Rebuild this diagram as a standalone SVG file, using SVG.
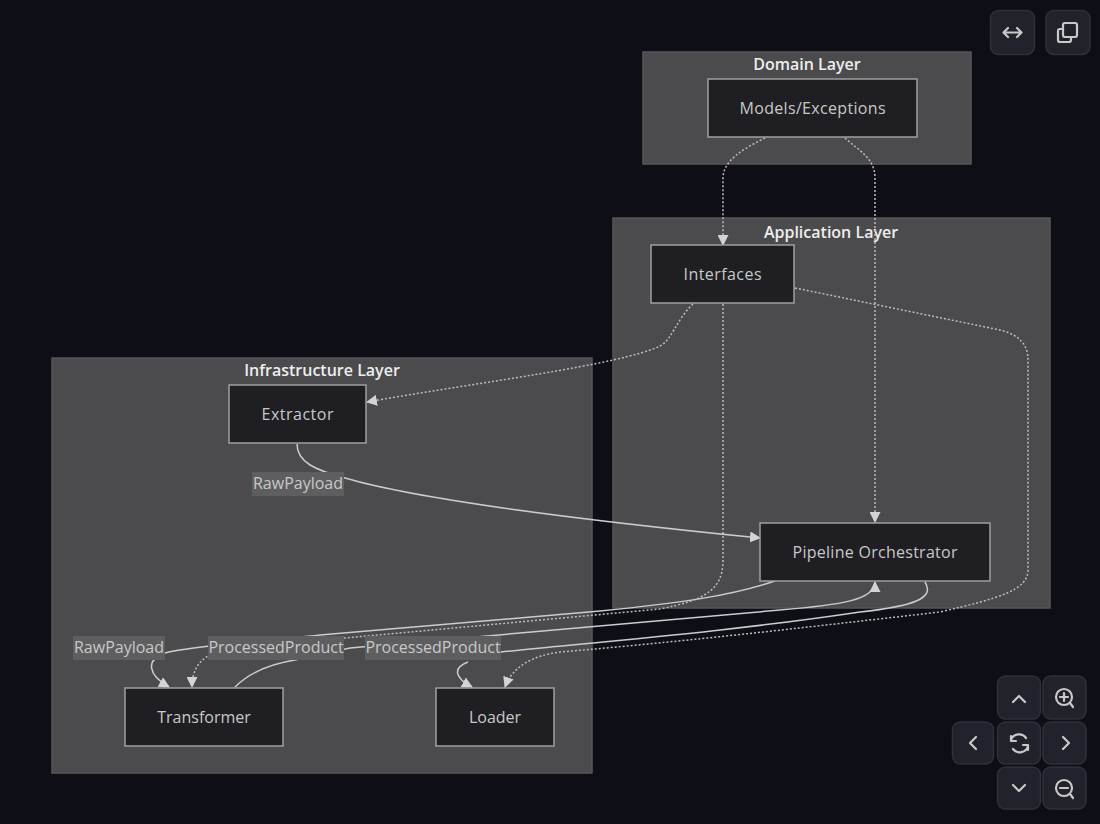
<svg xmlns="http://www.w3.org/2000/svg" width="1100" height="824" viewBox="0 0 1100 824">
<style>
text{font-family:"Open Sans","Liberation Sans",sans-serif;text-anchor:middle}
.cl{fill:#4b4b4e;stroke:#56565a;stroke-width:1.5}
.ct{font-size:16px;font-weight:600;fill:#eeeeee}
.n{fill:#1f1f23;stroke:#a0a0a0;stroke-width:1.5}
.nt{font-size:16px;fill:#c8c8c8}
.e{fill:none;stroke:#cccccc;stroke-width:1.5}
.d{stroke-dasharray:2 2;stroke:#bdbdbd}
.lb{fill:#5e5e60}
.lt{font-size:16px;fill:#c8c8c8}
.b{fill:#22222c;stroke:#30303a;stroke-width:1.5}
.i{fill:none;stroke:#c8c8c8;stroke-width:2.2;stroke-linecap:round;stroke-linejoin:round}
</style>
<defs><marker id="a" markerWidth="11" markerHeight="11" refX="10" refY="5.500" orient="auto" markerUnits="userSpaceOnUse"><path d="M0 0L11 5.500L0 11z" fill="#d4d4d4"/></marker></defs>
<rect width="1100" height="824" fill="#0e0e17"/>
<g id="clusters">
<g id="domain-layer"><rect class="cl" x="643" y="52" width="328" height="112"/><text class="ct" x="807" y="70">Domain Layer</text></g>
<g id="application-layer"><rect class="cl" x="613" y="218" width="437" height="390"/><text class="ct" x="831" y="238">Application Layer</text></g>
<g id="infrastructure-layer"><rect class="cl" x="52" y="358" width="540" height="415"/><text class="ct" x="322" y="376">Infrastructure Layer</text></g>
</g>
<g id="connectors">
<path class="e d" marker-end="url(#a)" d="M765 138C745 148 723 160 723 178V245"/>
<path class="e d" marker-end="url(#a)" d="M845 138C858 150 875 158 875 178V522"/>
<path class="e d" marker-end="url(#a)" d="M693 304C676 320 672 340 660 346C620 365 480 382 367 402"/>
<path class="e d" marker-end="url(#a)" d="M723 304V560C723 590 705 600 660 609L345 638C300 642 240 644 212 654C198 660 192 672 192 687"/>
<path class="e d" marker-end="url(#a)" d="M795 288L1000 330C1020 335 1028 345 1028 360V570C1028 590 1000 598 940 612C800 628 680 642 560 652C530 656 512 668 505 687"/>
<path class="e" marker-end="url(#a)" d="M297 444C297 462 315 470 345 478C420 500 600 522 760 538"/>
<path class="e" marker-end="url(#a)" d="M775 581C730 596 680 603 600 611L320 635C260 642 190 646 165 653C145 660 148 675 169 687"/>
<path class="e" marker-end="url(#a)" d="M235 687C250 672 270 664 295 660L350 648L520 633L780 610C840 605 875 600 875 582"/>
<path class="e" marker-end="url(#a)" d="M925 582C935 598 915 606 860 612C740 630 620 640 500 652M468 662C452 668 455 678 472 687"/>
</g>
<g id="edge-labels">
<g id="label-raw-1"><rect class="lb" x="252" y="472" width="92" height="24"/><text class="lt" x="298" y="489">RawPayload</text></g>
<g id="label-raw-2"><rect class="lb" x="73" y="636" width="92" height="24"/><text class="lt" x="119" y="653">RawPayload</text></g>
<g id="label-pp-1"><rect class="lb" x="208" y="636" width="136" height="24"/><text class="lt" x="276" y="653">ProcessedProduct</text></g>
<g id="label-pp-2"><rect class="lb" x="365" y="636" width="136" height="24"/><text class="lt" x="433" y="653">ProcessedProduct</text></g>
</g>
<g id="models"><rect class="n" x="708" y="79" width="209" height="58"/><text class="nt" x="812.500" y="114" textLength="146">Models/Exceptions</text></g>
<g id="interfaces"><rect class="n" x="651" y="245" width="143" height="58"/><text class="nt" x="722.500" y="280" textLength="78">Interfaces</text></g>
<g id="extractor"><rect class="n" x="229" y="385" width="137" height="58"/><text class="nt" x="297.500" y="420" textLength="72">Extractor</text></g>
<g id="orchestrator"><rect class="n" x="760" y="523" width="230" height="58"/><text class="nt" x="875" y="558" textLength="165">Pipeline Orchestrator</text></g>
<g id="transformer"><rect class="n" x="125" y="688" width="158" height="58"/><text class="nt" x="204" y="723">Transformer</text></g>
<g id="loader"><rect class="n" x="436" y="688" width="118" height="58"/><text class="nt" x="495" y="723">Loader</text></g>
<g id="controls">
<rect class="b" x="990.500" y="10.500" width="44" height="44" rx="8"/><path class="i" d="M1004 32.500H1021M1008 28L1003.500 32.500L1008 37M1017 28L1021.500 32.500L1017 37"/>
<rect class="b" x="1046" y="10.500" width="44" height="44" rx="8"/><rect class="i" x="1063" y="23" width="14" height="14" rx="2"/><path class="i" d="M1063 29H1060a2 2 0 0 0-2 2V40a2 2 0 0 0 2 2H1069a2 2 0 0 0 2-2V37"/>
<rect class="b" x="997.500" y="676" width="43" height="43" rx="8"/><path class="i" d="M1013 702L1019 696L1025 702"/>
<rect class="b" x="1043" y="676" width="43" height="43" rx="8"/><circle class="i" cx="1064" cy="697" r="8"/><path class="i" d="M1060 697H1068M1064 693V701M1070 703L1073 707"/>
<rect class="b" x="952.500" y="722" width="41" height="42" rx="8"/><path class="i" d="M976 737L970 743L976 749"/>
<rect class="b" x="997.500" y="722" width="43" height="42" rx="8"/><path class="i" d="M1011 740A8.500 8.500 0 0 1 1026 738M1028 746A8.500 8.500 0 0 1 1013 749M1011 736V741H1016M1028 750V745H1023"/>
<rect class="b" x="1043" y="722" width="43" height="42" rx="8"/><path class="i" d="M1063 737L1069 743L1063 749"/>
<rect class="b" x="997.500" y="767" width="43" height="42" rx="8"/><path class="i" d="M1013 785L1019 791L1025 785"/>
<rect class="b" x="1043" y="767" width="43" height="42" rx="8"/><circle class="i" cx="1064" cy="788" r="8"/><path class="i" d="M1060 788H1068M1070 794L1073 798"/>
</g>
</svg>
